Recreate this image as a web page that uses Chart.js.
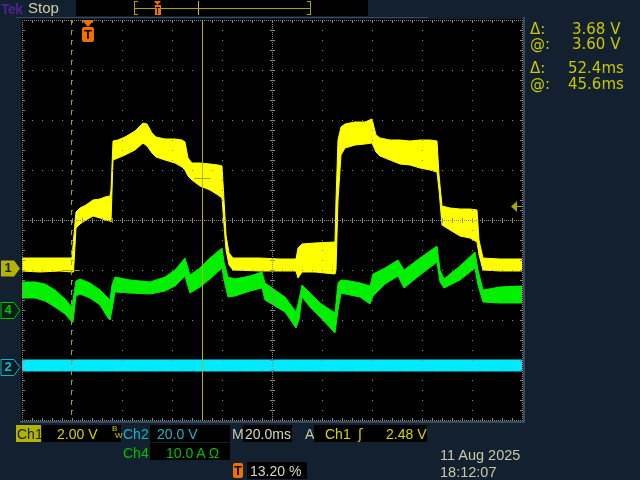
<!DOCTYPE html>
<html><head><meta charset="utf-8">
<script src="https://cdn.jsdelivr.net/npm/chart.js@4"></script>
<style>
html,body{margin:0;padding:0;background:#13202f;width:640px;height:480px;overflow:hidden}
canvas{position:absolute;left:0;top:0}
.t{position:absolute;font-family:"Liberation Sans",Arial,sans-serif;font-size:14px;line-height:16px;white-space:pre}
.r{position:absolute;font-family:"DejaVu Sans",sans-serif;font-size:15px;line-height:18px;white-space:pre;color:#c8c800}
.box{position:absolute;background:#000}
.mk{position:absolute;width:14px;height:16px;line-height:16px;text-align:center;font-family:"Liberation Sans",Arial,sans-serif;font-size:13px;font-weight:bold}
.tb{position:absolute;background:#f07000;color:#1a0a00;font-family:"Liberation Sans",Arial,sans-serif;font-weight:bold;font-size:13px;line-height:15px;text-align:center;border-radius:2px}
</style></head><body>
<canvas id="c" width="640" height="480"></canvas>

<div class="t" style="left:1px;top:1px;font-size:14px;font-weight:bold;color:#4e2290;letter-spacing:-0.5px">Tek</div>
<div class="t" style="left:28px;top:0;font-size:15px;color:#d0d0a8">Stop</div>

<div class="r" style="left:530px;top:20px">Δ:</div><div class="r" style="left:572px;top:20px">3.68 V</div>
<div class="r" style="left:530px;top:35px">@:</div><div class="r" style="left:572px;top:35px">3.60 V</div>
<div class="r" style="left:530px;top:59px">Δ:</div><div class="r" style="left:568px;top:59px">52.4ms</div>
<div class="r" style="left:530px;top:75px">@:</div><div class="r" style="left:568px;top:75px">45.6ms</div>

<div class="box" style="left:16px;top:425px;width:25px;height:17px;background:#b4b400"></div>
<div class="t" style="left:17px;top:426px;color:#102030">Ch1</div>
<div class="box" style="left:42px;top:425px;width:79px;height:17px"></div>
<div class="t" style="left:57px;top:426px;color:#d4d400">2.00 V</div>
<div class="t" style="left:112px;top:424px;font-size:8px;line-height:9px;color:#d4d400">B</div>
<div class="t" style="left:115px;top:431px;font-size:8px;line-height:9px;color:#d4d400">W</div>
<div class="t" style="left:123px;top:426px;color:#1cb4c4">Ch2</div>
<div class="box" style="left:150px;top:425px;width:80px;height:17px"></div>
<div class="t" style="left:157px;top:426px;color:#1cb4c4">20.0 V</div>
<div class="t" style="left:232px;top:426px;color:#c8c8a8">M</div>
<div class="box" style="left:243px;top:425px;width:49px;height:17px"></div>
<div class="t" style="left:245px;top:426px;color:#d8d8c0">20.0ms</div>
<div class="t" style="left:305px;top:426px;color:#c8c8a8">A</div>
<div class="box" style="left:314px;top:425px;width:113px;height:17px"></div>
<div class="t" style="left:325px;top:426px;color:#d4d400">Ch1</div>
<div class="t" style="left:358px;top:426px;color:#d4d400;font-family:'DejaVu Sans'">ʃ</div>
<div class="t" style="left:386px;top:426px;color:#d4d400">2.48 V</div>

<div class="t" style="left:123px;top:445px;color:#00c000">Ch4</div>
<div class="box" style="left:150px;top:443px;width:80px;height:17px"></div>
<div class="t" style="left:166px;top:445px;color:#00c000">10.0 A Ω</div>

<div class="tb" style="left:233px;top:463px;width:10px;height:15px">T</div>
<div class="box" style="left:247px;top:462px;width:60px;height:17px"></div>
<div class="t" style="left:250px;top:463px;color:#d8d8c0">13.20 %</div>

<div class="t" style="left:440px;top:447px;font-size:14.5px;color:#c8c8a8">11 Aug 2025</div>
<div class="t" style="left:440px;top:464px;font-size:14.5px;color:#c8c8a8">18:12:07</div>

<div class="mk" id="m1" style="left:1px;color:#102030">1</div>
<div class="mk" id="m4" style="left:1px;color:#00c000">4</div>
<div class="mk" id="m2" style="left:1px;color:#00c0d0">2</div>
<div class="tb" id="tmark" style="top:27px;width:12px;height:15px">T</div>

<script>
// ---- time axis (ms from left edge of screen, 20 ms/div) ----
const timePerDiv = 20;
const triggerPercent = 13.20;           // trigger position in record
const cursorDeltaT = 52.4, cursorAtT = 45.6;  // ms
const cursorDeltaV = 3.68, cursorAtV = 3.60;  // V (Ch1)
const triggerLevel = 2.48;              // V (Ch1)

// channel settings: units per division and ground position (divisions from centre)
const ch1PerDiv = 2, ch1Ground = -0.96;
const ch4PerDiv = 10, ch4Ground = -1.8;
const ch2PerDiv = 20, ch2Ground = -2.94;

// ---- Ch1 (V): envelope of the noisy trace ----
const ch1Time = [0,7.2,15.2,20,20.6,21.6,23.2,25.6,28.4,31.2,33.2,35.2,35.6,36.4,38.4,41.2,45.2,48.4,50,52,53.6,57.2,61.2,64,65.2,66.4,68,71.2,75.2,78.4,80,80.8,81.6,82.8,84.4,95.2,103.2,109.6,110.4,112,117.2,125.2,125.6,126.4,127.6,129.2,133.2,137.2,140,141.6,143.2,147.2,151.2,155.2,159.2,163.2,166,166.8,168,171.2,175.2,179.2,182,182.8,184.4,191.2,200];
const ch1High = [0.40,0.40,0.40,0.40,1.12,2.24,2.40,2.52,2.72,2.76,2.84,2.88,3.12,5.08,5.12,5.24,5.48,5.80,5.76,5.40,5.24,5.16,5.16,5.12,5.04,4.40,4.20,4.20,4.16,4.12,4.08,2.72,1.32,0.60,0.40,0.40,0.36,0.36,0.80,0.96,1.00,1.04,2.72,5.12,5.64,5.76,5.84,5.84,5.96,5.32,5.20,5.12,5.12,5.08,5.12,5.12,5.08,3.72,2.48,2.40,2.36,2.36,2.32,1.12,0.40,0.36,0.36];
const ch1Low  = [-0.12,-0.16,-0.12,-0.16,-0.16,1.60,1.76,1.92,2.08,2.00,1.92,1.88,1.84,4.32,4.40,4.52,4.72,5.00,4.88,4.60,4.44,4.32,4.20,4.04,3.92,3.68,3.52,3.28,3.12,2.92,2.80,1.72,0.72,0.12,-0.08,-0.12,-0.12,-0.12,-0.40,-0.16,-0.16,-0.24,-0.08,2.72,4.52,4.80,4.92,4.96,5.00,4.64,4.48,4.32,4.16,4.12,4.00,3.92,3.84,3.12,1.72,1.52,1.28,1.20,1.04,0.52,-0.08,-0.12,-0.12];

// ---- Ch4 (A) ----
const ch4Time = [0,5.2,9.2,13.2,17.2,20,20.4,21.6,23.2,27.2,31.2,34.4,35.2,36,37.2,43.2,51.2,57.2,61.2,65.2,66,67.2,71.2,75.2,80,80.8,82.4,85.2,91.2,96,97.2,101.2,105.2,109.6,110.8,112,115.2,119.2,125.2,126.4,127.6,131.2,135.2,139.2,140.4,145.2,150.4,151.6,152.8,159.2,166,167.2,168.8,175.2,181.2,182.4,184.4,191.2,200];
const ch4High = [5.6,5.6,5.2,4.0,2.2,0.6,2.0,5.8,6.2,5.4,4.0,2.4,2.0,5.0,6.6,6.0,5.6,6.6,8.0,10.4,9.0,7.0,8.4,10.4,12.4,9.6,6.6,6.2,6.8,7.6,5.4,4.0,2.6,-0.4,2.0,5.0,3.4,1.4,-0.6,5.4,6.0,5.8,5.4,4.8,7.2,8.4,10.0,9.0,8.0,10.4,12.8,8.0,6.2,8.8,11.6,8.0,4.0,4.6,4.8];
const ch4Low  = [2.4,2.4,1.8,0.6,-0.8,-2.4,-2.4,2.8,3.2,2.4,1.0,-1.6,-2.0,0,3.6,3.4,3.2,3.8,4.8,6.8,5.4,3.4,4.6,6.2,8.4,6.0,2.6,2.8,3.8,4.4,2.0,0.8,-0.4,-3.6,-2.0,2.6,0.6,-1.4,-4.6,0,3.4,3.0,2.6,1.2,2.8,5.2,6.8,5.6,4.4,7.0,9.6,5.6,4.4,6.0,8.4,5.0,1.6,1.4,1.4];

// ---- Ch2 (V) ----
const ch2Time = [0,50,100,150,200];
const ch2High = [2.8,2.8,2.8,2.8,2.8];
const ch2Low  = [-1.6,-1.6,-1.6,-1.6,-1.6];

const pts = (t, v) => t.map((x, i) => ({x, y: v[i]}));
const axisRange = (perDiv, ground) => ({min: (-4 - ground) * perDiv, max: (4 - ground) * perDiv});
const YEL = '#ffff00', GRN = '#00f000', CYN = '#00eaff';
const GRID = 'rgb(140,140,122)';

function band(label, t, lo, hi, color, axis) {
  return [
    {label: label + ' low', data: pts(t, lo), yAxisID: axis, borderColor: color, backgroundColor: color, borderWidth: 1, pointRadius: 0, fill: false, tension: 0},
    {label: label, data: pts(t, hi), yAxisID: axis, borderColor: color, backgroundColor: color, borderWidth: 1, pointRadius: 0, fill: '-1', tension: 0}
  ];
}

const scopePlugin = {
  id: 'scope',
  beforeDraw(chart) {
    const {ctx, chartArea: a} = chart;
    ctx.save();
    ctx.fillStyle = '#13202f';
    ctx.fillRect(0, 0, chart.width, chart.height);
    // frame
    ctx.fillStyle = '#3a4a5e';
    ctx.fillRect(16, 17, 412, 1);
    ctx.fillRect(a.left - 2, a.bottom + 1, a.right - a.left + 5, 2);
    ctx.fillRect(a.right + 1, 17, 2, a.bottom - 15);
    ctx.fillStyle = '#000';
    ctx.fillRect(a.left - 1, a.top - 1, a.right - a.left + 2, a.bottom - a.top + 2);
    // top record bar
    ctx.fillStyle = '#000';
    ctx.fillRect(76, 0, 292, 16);
    ctx.restore();
  },
  afterDatasetsDraw(chart) {
    const {ctx, chartArea: a, scales} = chart;
    const L = Math.round(a.left), R = Math.round(a.right), T = Math.round(a.top), B = Math.round(a.bottom);
    const dw = (R - L) / 10, dh = (B - T) / 8;
    ctx.save();
    ctx.fillStyle = GRID;
    for (let i = 1; i < 10; i++) {
      if (i === 5) continue;
      const x = Math.round(L + i * dw);
      for (let j = 1; j < 40; j++) ctx.fillRect(x, Math.round(T + j * dh / 5), 1, 1);
    }
    for (let i = 1; i < 8; i++) {
      if (i === 4) continue;
      const y = Math.round(T + i * dh);
      for (let j = 1; j < 50; j++) ctx.fillRect(Math.round(L + j * dw / 5), y, 1, 1);
    }
    const cx = Math.round(L + 5 * dw), cy = Math.round(T + 4 * dh);
    for (let y = T; y <= B; y += 2) ctx.fillRect(cx, y, 1, 1);
    for (let x = L; x <= R; x += 2) ctx.fillRect(x, cy, 1, 1);
    for (let j = 1; j < 50; j++) {
      const x = Math.round(L + j * dw / 5);
      ctx.fillRect(x, cy - 2, 1, 5);
      ctx.fillRect(x, T, 1, 3); ctx.fillRect(x, B - 2, 1, 3);
    }
    for (let j = 1; j < 40; j++) {
      const y = Math.round(T + j * dh / 5);
      ctx.fillRect(cx - 2, y, 5, 1);
      ctx.fillRect(L, y, 3, 1); ctx.fillRect(R - 2, y, 3, 1);
    }
    for (let x = L; x <= R; x += 2) { ctx.fillRect(x, T, 1, 1); ctx.fillRect(x, B, 1, 1); }
    for (let y = T; y <= B; y += 2) { ctx.fillRect(L, y, 1, 1); ctx.fillRect(R, y, 1, 1); }

    // cursors
    const trigT = triggerPercent / 100 * timePerDiv * 10;
    const c1x = Math.round(scales.x.getPixelForValue(trigT + cursorAtT - cursorDeltaT)) + 0.5;
    const c2x = Math.round(scales.x.getPixelForValue(trigT + cursorAtT)) + 0.5;
    ctx.lineWidth = 1;
    ctx.strokeStyle = '#a0a028';
    ctx.setLineDash([5, 5]);
    ctx.beginPath(); ctx.moveTo(c1x, T); ctx.lineTo(c1x, B); ctx.stroke();
    ctx.setLineDash([]);
    ctx.strokeStyle = '#b8b400';
    ctx.beginPath(); ctx.moveTo(c2x, T); ctx.lineTo(c2x, B); ctx.stroke();
    const y1a = Math.round(scales.y1.getPixelForValue(cursorAtV - cursorDeltaV)) + 0.5;
    const y1b = Math.round(scales.y1.getPixelForValue(cursorAtV)) + 0.5;
    ctx.strokeStyle = '#a8a420';
    ctx.beginPath(); ctx.moveTo(c1x - 9, y1a); ctx.lineTo(c1x + 8, y1a); ctx.stroke();
    ctx.beginPath(); ctx.moveTo(c2x - 8, y1b); ctx.lineTo(c2x + 8, y1b); ctx.stroke();

    // trigger level arrow (right edge)
    const ty = Math.round(scales.y1.getPixelForValue(triggerLevel));
    ctx.fillStyle = '#a8a400';
    ctx.beginPath(); ctx.moveTo(R - 11, ty + 0.5); ctx.lineTo(R - 5, ty - 5); ctx.lineTo(R - 5, ty + 6); ctx.closePath(); ctx.fill();
    ctx.fillRect(R - 5, ty, 5, 1);

    // trigger position marker
    const tx = Math.round(scales.x.getPixelForValue(trigT));
    ctx.fillStyle = '#f07000';
    ctx.beginPath(); ctx.moveTo(tx - 6, T); ctx.lineTo(tx + 6, T); ctx.lineTo(tx, T + 7); ctx.closePath(); ctx.fill();
    const tm = document.getElementById('tmark');
    tm.style.left = (tx - 6) + 'px';

    // channel ground markers
    const marks = [['m1', 'y1', '#b4b400', null], ['m4', 'y4', '#0c1e14', '#00c000'], ['m2', 'y2', '#0c1a24', '#00b8c8']];
    for (const [id, ax, fill, stroke] of marks) {
      const yc = Math.round(scales[ax].getPixelForValue(0)) + 0.5;
      ctx.beginPath();
      ctx.moveTo(1, yc - 8); ctx.lineTo(14, yc - 8); ctx.lineTo(20, yc); ctx.lineTo(14, yc + 8); ctx.lineTo(1, yc + 8); ctx.closePath();
      ctx.fillStyle = fill; ctx.fill();
      if (stroke) { ctx.strokeStyle = stroke; ctx.lineWidth = 1; ctx.stroke(); }
      document.getElementById(id).style.top = (yc - 8.5) + 'px';
    }

    // record bar (top)
    const bL = 134, bR = 310;
    const toBar = px => bL + (px - L) * (bR - bL) / (R - L);
    ctx.fillStyle = '#a8a400';
    ctx.fillRect(bL, 1, 1, 14); ctx.fillRect(bL, 1, 4, 1); ctx.fillRect(bL, 14, 4, 1);
    ctx.fillRect(bR, 1, 1, 14); ctx.fillRect(bR - 3, 1, 4, 1); ctx.fillRect(bR - 3, 14, 4, 1);
    ctx.fillRect(bL, 8, bR - bL, 1);
    ctx.fillStyle = '#c0bc00';
    ctx.fillRect(Math.round(toBar(c2x)), 1, 1, 14);
    const tb = Math.round(toBar(tx));
    ctx.fillStyle = '#f07000';
    ctx.beginPath(); ctx.moveTo(tb - 3, 1); ctx.lineTo(tb + 4, 1); ctx.lineTo(tb + 0.5, 5); ctx.closePath(); ctx.fill();
    ctx.fillRect(tb - 2, 5, 6, 10);
    ctx.fillStyle = '#000';
    ctx.fillRect(tb - 1, 7, 4, 1); ctx.fillRect(tb, 7, 1, 7);
    ctx.restore();
  }
};

const r1 = axisRange(ch1PerDiv, ch1Ground), r4 = axisRange(ch4PerDiv, ch4Ground), r2 = axisRange(ch2PerDiv, ch2Ground);

new Chart(document.getElementById('c'), {
  type: 'line',
  data: {
    datasets: [
      ...band('Ch1', ch1Time, ch1Low, ch1High, YEL, 'y1'),
      ...band('Ch4', ch4Time, ch4Low, ch4High, GRN, 'y4'),
      ...band('Ch2', ch2Time, ch2Low, ch2High, CYN, 'y2')
    ]
  },
  options: {
    responsive: false, animation: false, devicePixelRatio: 1, events: [],
    layout: {padding: {left: 22, right: 118, top: 20, bottom: 60}},
    plugins: {legend: {display: false}, tooltip: {enabled: false}},
    scales: {
      x: {type: 'linear', min: 0, max: timePerDiv * 10, display: false},
      y1: {type: 'linear', min: r1.min, max: r1.max, display: false},
      y4: {type: 'linear', min: r4.min, max: r4.max, display: false},
      y2: {type: 'linear', min: r2.min, max: r2.max, display: false}
    }
  },
  plugins: [scopePlugin]
});
</script>
</body></html>
